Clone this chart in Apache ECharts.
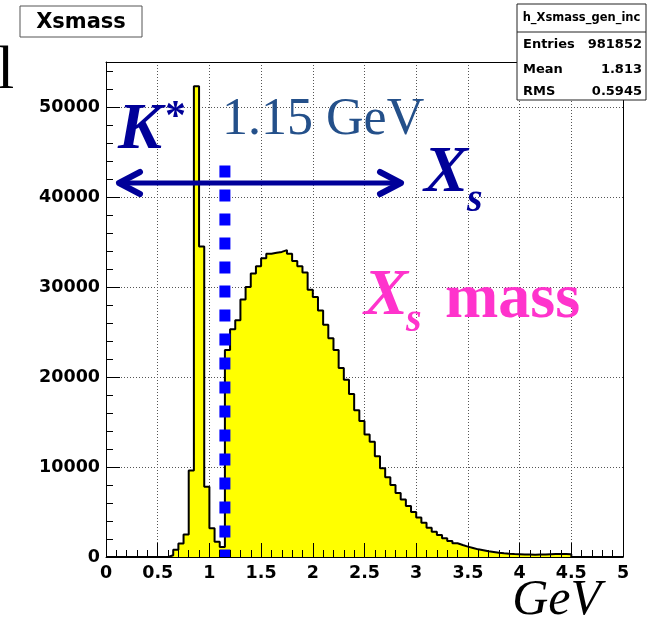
<!DOCTYPE html>
<html>
<head>
<meta charset="utf-8">
<script src="https://cdn.jsdelivr.net/npm/echarts@6/dist/echarts.min.js"></script>
<style>
  html, body { margin: 0; padding: 0; background: #ffffff; }
  #chart { width: 654px; height: 620px; }
</style>
</head>
<body>
<div id="chart"></div>
<script>
// Generated Xs mass spectrum: 100 bins of 0.05 GeV between 0 and 5 GeV.
const histMin = 0;
const histMax = 5;
const binWidth = 0.05;

// Entries per bin, in bin order starting at 0 GeV.
const binCounts = [
  0, 0, 0, 0, 0, 0, 0, 0, 0, 0, 0, 0,                 // 0.00 - 0.55
  200, 800, 1500, 2500, 9600, 52300, 34500, 7800,     // 0.60 - 0.95
  3200, 1700, 1100,                                   // 1.00 - 1.10
  23000, 25300, 26300, 28600, 30000, 31500, 32300,    // 1.15 - 1.45
  33200, 33700, 33800, 33900, 34100, 33700, 32900,    // 1.50 - 1.80
  32300, 31600, 29700, 28900, 27400, 25800, 24300,    // 1.85 - 2.15
  23000, 21000, 19700, 18100, 16300, 15100, 13600,    // 2.20 - 2.50
  12800, 11200, 9850, 8850, 8000, 7100, 6400,         // 2.55 - 2.85
  5670, 5000, 4400, 3800, 3260, 2800, 2440,           // 2.90 - 3.20
  2070, 1780, 1520, 1330, 1150, 1000, 850,            // 3.25 - 3.55
  740, 630, 560, 480, 410, 360, 320,                  // 3.60 - 3.90
  300, 280, 270, 260, 270, 280, 300,                  // 3.95 - 4.25
  320, 330, 330, 300,                                 // 4.30 - 4.45
  0, 0, 0, 0, 0, 0, 0, 0, 0, 0                        // 4.50 - 4.95
];

const xTickLabels = ['0', '0.5', '1', '1.5', '2', '2.5', '3', '3.5', '4', '4.5', '5'];
const yTickLabels = ['0', '10000', '20000', '30000', '40000', '50000'];

const statNames = ['Entries', 'Mean', 'RMS'];
const statValues = ['981852', '1.813', '0.5945'];

// Cut position between the K* region and the Xs region (GeV).
const cutMass = 1.15;
const cutLineTop = 43500;

// Step-line points: left edge of each bin, closed at the upper edge of the range.
const histPoints = binCounts.map((c, i) => [histMin + i * binWidth, c]);
histPoints.push([histMax, 0]);

const labelFont = { color: '#000', fontFamily: 'DejaVu Sans', fontWeight: 'bold', fontSize: 17.5 };
const black = { color: '#000', width: 1 };
const dotted = { color: '#555', width: 1, type: [1, 2] };

const chart = echarts.init(document.getElementById('chart'), null, { renderer: 'canvas' });

const option = {
  animation: false,
  backgroundColor: '#ffffff',
  grid: { left: 106, top: 62, width: 517, height: 495, show: false },
  xAxis: [
    { // bottom frame, labels and ticks
      type: 'value', min: histMin, max: histMax, interval: 0.5, position: 'bottom', z: 10,
      axisLine: { show: true, onZero: false, lineStyle: black },
      axisTick: { show: true, inside: true, length: 14, lineStyle: black },
      minorTick: { show: true, splitNumber: 5, length: 7, lineStyle: black },
      axisLabel: Object.assign({ margin: 7, formatter: v => xTickLabels[Math.round(v / 0.5)] }, labelFont),
      splitLine: { show: false }
    },
    { // top frame
      type: 'value', min: histMin, max: histMax, position: 'top', z: 10,
      axisLine: { show: true, onZero: false, lineStyle: black },
      axisTick: { show: false }, axisLabel: { show: false }, splitLine: { show: false }
    },
    { // vertical dotted grid
      type: 'value', min: histMin, max: histMax, interval: 0.5, position: 'bottom', z: 0,
      axisLine: { show: false }, axisTick: { show: false }, axisLabel: { show: false },
      splitLine: { show: true, lineStyle: dotted }
    }
  ],
  yAxis: [
    { // left frame, labels and major ticks
      type: 'value', min: 0, max: 55000, interval: 10000, position: 'left', z: 10,
      axisLine: { show: true, onZero: false, lineStyle: black },
      axisTick: { show: true, inside: true, length: 14, lineStyle: black },
      axisLabel: Object.assign({ margin: 6, showMaxLabel: false,
        formatter: v => yTickLabels[Math.round(v / 10000)] || '' }, labelFont),
      splitLine: { show: false }
    },
    { // minor ticks every 2000
      type: 'value', min: 0, max: 55000, interval: 2000, position: 'left', z: 10,
      axisLine: { show: false },
      axisTick: { show: true, inside: true, length: 7, lineStyle: black },
      axisLabel: { show: false }, splitLine: { show: false }
    },
    { // right frame
      type: 'value', min: 0, max: 55000, position: 'right', z: 10,
      axisLine: { show: true, onZero: false, lineStyle: black },
      axisTick: { show: false }, axisLabel: { show: false }, splitLine: { show: false }
    },
    { // horizontal dotted grid
      type: 'value', min: 0, max: 55000, interval: 10000, position: 'left', z: 0,
      axisLine: { show: false }, axisTick: { show: false }, axisLabel: { show: false },
      splitLine: { show: true, lineStyle: dotted }
    }
  ],
  series: [
    {
      name: 'h_Xsmass_gen_inc',
      type: 'line',
      xAxisIndex: 0, yAxisIndex: 0,
      step: 'end',
      data: histPoints,
      symbol: 'none',
      z: 2,
      lineStyle: { color: '#000', width: 2 },
      areaStyle: { color: '#ffff00', opacity: 1 }
    },
    {
      name: 'cut',
      type: 'line',
      xAxisIndex: 0, yAxisIndex: 0,
      data: [[cutMass, cutLineTop], [cutMass, 0]],
      symbol: 'none',
      z: 3,
      lineStyle: { color: '#0000ff', width: 11, type: [12, 12], cap: 'butt' }
    }
  ],
  graphic: [
    // histogram title box
    { type: 'rect', z: 100, shape: { x: 20, y: 6, width: 122, height: 31 },
      style: { fill: '#fff', stroke: '#555', lineWidth: 1 } },
    { type: 'text', z: 101, x: 81, y: 22.5,
      style: { text: 'Xsmass', font: 'bold 21px "DejaVu Sans"', fill: '#000', align: 'center', verticalAlign: 'middle' } },

    // statistics box
    { type: 'rect', z: 100, shape: { x: 517, y: 4, width: 129, height: 96 },
      style: { fill: '#fff', stroke: '#222', lineWidth: 1 } },
    { type: 'line', z: 101, shape: { x1: 517, y1: 32, x2: 646, y2: 32 },
      style: { stroke: '#222', lineWidth: 1 } },
    { type: 'text', z: 101, x: 581.5, y: 18,
      style: { text: 'h_Xsmass_gen_inc', font: 'bold 11.5px "DejaVu Sans"', fill: '#000', align: 'center', verticalAlign: 'middle' } },
    ...statNames.map((name, i) => ({ type: 'text', z: 101, x: 523, y: [45, 70, 92][i],
      style: { text: name, font: 'bold 13px "DejaVu Sans"', fill: '#000', align: 'left', verticalAlign: 'middle' } })),
    ...statValues.map((val, i) => ({ type: 'text', z: 101, x: 642, y: [45, 70, 92][i],
      style: { text: val, font: 'bold 13px "DejaVu Sans"', fill: '#000', align: 'right', verticalAlign: 'middle' } })),

    // letter at the left edge of the slide
    { type: 'text', z: 100, x: -3, y: 72,
      style: { text: 'l', font: '62px "Liberation Serif"', fill: '#000', align: 'left', verticalAlign: 'middle' } },

    // K* label
    { type: 'text', z: 100, x: 118, y: 131,
      style: { text: 'K', font: 'italic bold 66px "Liberation Serif"', fill: '#000099', align: 'left', verticalAlign: 'middle' } },
    { type: 'text', z: 100, x: 165, y: 118,
      style: { text: '*', font: 'bold 42px "Liberation Serif"', fill: '#000099', align: 'left', verticalAlign: 'middle' } },

    // cut value
    { type: 'text', z: 100, x: 222, y: 120,
      style: { text: '1.15 GeV', font: '52px "Liberation Serif"', fill: '#24508a', align: 'left', verticalAlign: 'middle' } },

    // double arrow
    { type: 'line', z: 100, shape: { x1: 120, y1: 183, x2: 400, y2: 183 },
      style: { stroke: '#000099', lineWidth: 5 } },
    { type: 'polyline', z: 100, shape: { points: [[140, 172], [119, 183], [140, 194]] },
      style: { stroke: '#000099', lineWidth: 6, fill: null, lineCap: 'round', lineJoin: 'round' } },
    { type: 'polyline', z: 100, shape: { points: [[380, 172], [401, 183], [380, 194]] },
      style: { stroke: '#000099', lineWidth: 6, fill: null, lineCap: 'round', lineJoin: 'round' } },

    // X_s next to the arrow
    { type: 'text', z: 100, x: 424, y: 174,
      style: { text: 'X', font: 'italic bold 66px "Liberation Serif"', fill: '#000099', align: 'left', verticalAlign: 'middle' } },
    { type: 'text', z: 100, x: 467, y: 201,
      style: { text: 's', font: 'italic bold 40px "Liberation Serif"', fill: '#000099', align: 'left', verticalAlign: 'middle' } },

    // X_s mass
    { type: 'text', z: 100, x: 364, y: 297,
      style: { text: 'X', font: 'italic bold 66px "Liberation Serif"', fill: '#ff33cc', align: 'left', verticalAlign: 'middle' } },
    { type: 'text', z: 100, x: 406, y: 321,
      style: { text: 's', font: 'italic bold 40px "Liberation Serif"', fill: '#ff33cc', align: 'left', verticalAlign: 'middle' } },
    { type: 'text', z: 100, x: 445, y: 300,
      style: { text: 'mass', font: 'bold 64px "Liberation Serif"', fill: '#ff33cc', align: 'left', verticalAlign: 'middle' } },

    // x axis title
    { type: 'text', z: 100, x: 601, y: 601,
      style: { text: 'GeV', font: 'italic 50px "Liberation Serif"', fill: '#000', align: 'right', verticalAlign: 'middle' } }
  ]
};

chart.setOption(option);
</script>
</body>
</html>
